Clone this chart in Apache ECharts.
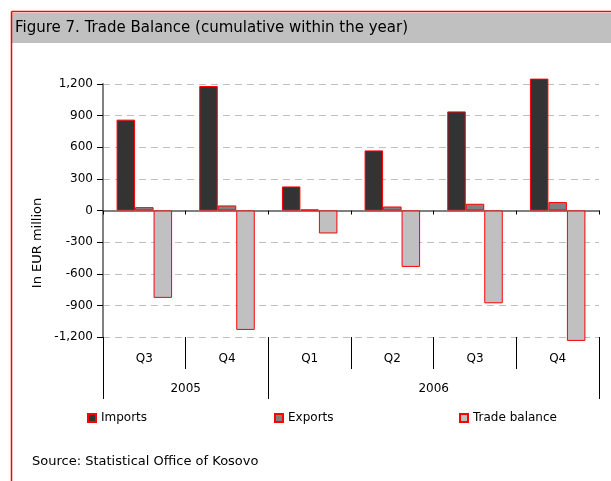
<!DOCTYPE html>
<html>
<head>
<meta charset="utf-8">
<script src="https://cdn.jsdelivr.net/npm/echarts@6/dist/echarts.min.js"></script>
<style>
    html, body { margin: 0; padding: 0; background: #fff; }
    #chart { width: 611px; height: 481px; }
</style>
</head>
<body>
<div id="chart"></div>
<script>
    // data (EUR million, cumulative within the year)
    var quarters = ['Q3', 'Q4', 'Q1', 'Q2', 'Q3', 'Q4'];
    var years = ['2005', '2006'];
    var yearSpans = [2, 4]; // number of quarters under each year
    var imports = [862, 1181, 228, 570, 940, 1251];
    var exports = [32, 48, 10, 38, 64, 80];
    var tradeBalance = [-829, -1133, -218, -535, -880, -1237];
    var yTicks = [-1200, -900, -600, -300, 0, 300, 600, 900, 1200];

    var font = 'DejaVu Sans';

    // year row: half-quarter slots, label at the middle of each span
    var yearSlots = [];
    var yearBounds = [0];
    var pos = 0;
    for (var i = 0; i < quarters.length * 2 + 1; i++) yearSlots.push('');
    years.forEach(function (y, k) {
        yearSlots[pos * 2 + yearSpans[k]] = y;
        pos += yearSpans[k];
        yearBounds.push(pos * 2);
    });

    var myChart = echarts.init(document.getElementById('chart'));

    var barStyle = function (color) {
        return { color: color, borderColor: '#ff0000', borderWidth: 1 };
    };

    option = {
        animation: false,
        textStyle: { fontFamily: font },
        graphic: [
            { type: 'rect', shape: { x: 12, y: 13, width: 600, height: 30 }, style: { fill: '#c0c0c0' } },
            { type: 'line', shape: { x1: 11.5, y1: 11.5, x2: 611, y2: 11.5 }, style: { stroke: '#ff0000', lineWidth: 1.5 } },
            { type: 'line', shape: { x1: 11.5, y1: 11.5, x2: 11.5, y2: 481 }, style: { stroke: '#ff0000', lineWidth: 1.5 } },
            {
                type: 'text', x: 38, y: 243, rotation: Math.PI / 2,
                style: { text: 'In EUR million', font: '13px "DejaVu Sans"', fill: '#000', align: 'center', verticalAlign: 'middle' }
            }
        ],
        title: [
            {
                text: 'Figure 7. Trade Balance (cumulative within the year)',
                left: 15, top: 21, padding: 0,
                textStyle: { fontSize: 15, fontWeight: 'normal', color: '#000', fontFamily: font }
            },
            {
                text: 'Source: Statistical Office of Kosovo',
                left: 32, top: 455, padding: 0,
                textStyle: { fontSize: 13, fontWeight: 'normal', color: '#000', fontFamily: font }
            }
        ],
        legend: [
            { data: ['Imports'], left: 87, top: 412 },
            { data: ['Exports'], left: 274, top: 412 },
            { data: ['Trade balance'], left: 459, top: 412 }
        ].map(function (l) {
            return Object.assign({
                icon: 'rect', itemWidth: 8, itemHeight: 8, itemGap: 5, padding: 0,
                textStyle: { fontSize: 12, color: '#000', fontFamily: font }
            }, l);
        }),
        grid: { left: 103, right: 12, top: 84, bottom: 144, containLabel: false },
        xAxis: [
            {
                type: 'category',
                data: quarters,
                axisLine: { onZero: true, lineStyle: { color: '#808080', width: 2 } },
                axisTick: { show: true, interval: 0, length: 4, lineStyle: { color: '#000' } },
                axisLabel: { show: false }
            },
            {
                type: 'category',
                data: quarters,
                position: 'bottom',
                axisLine: { show: false, onZero: false },
                axisTick: { show: true, interval: 0, length: 32, lineStyle: { color: '#000' } },
                axisLabel: { interval: 0, margin: 16, fontSize: 12, color: '#000', fontFamily: font }
            },
            {
                type: 'category',
                data: yearSlots,
                boundaryGap: false,
                position: 'bottom',
                axisLine: { show: false, onZero: false },
                axisTick: {
                    show: true,
                    length: 62,
                    interval: function (idx) { return yearBounds.indexOf(idx) >= 0; },
                    lineStyle: { color: '#000' }
                },
                axisLabel: { interval: 0, margin: 46, fontSize: 12, color: '#000', fontFamily: font }
            }
        ],
        yAxis: {
            type: 'value',
            min: yTicks[0],
            max: yTicks[yTicks.length - 1],
            interval: 300,
            axisLine: { show: true, lineStyle: { color: '#808080', width: 2 } },
            axisTick: { show: true, length: 6, lineStyle: { color: '#000' } },
            axisLabel: {
                margin: 10, fontSize: 12, color: '#000', fontFamily: font,
                formatter: function (v) { return v.toLocaleString('en-US'); }
            },
            splitLine: { lineStyle: { color: '#c0c0c0', type: [7, 5], width: 1 } }
        },
        series: [
            { name: 'Imports', type: 'bar', data: imports, barWidth: 18.5, barGap: '0%', clip: false, itemStyle: barStyle('#333333') },
            { name: 'Exports', type: 'bar', data: exports, barWidth: 18.5, barGap: '0%', clip: false, itemStyle: barStyle('#808080') },
            { name: 'Trade balance', type: 'bar', data: tradeBalance, barWidth: 18.5, barGap: '0%', clip: false, itemStyle: barStyle('#c0c0c0') }
        ]
    };

    myChart.setOption(option);
</script>
</body>
</html>
